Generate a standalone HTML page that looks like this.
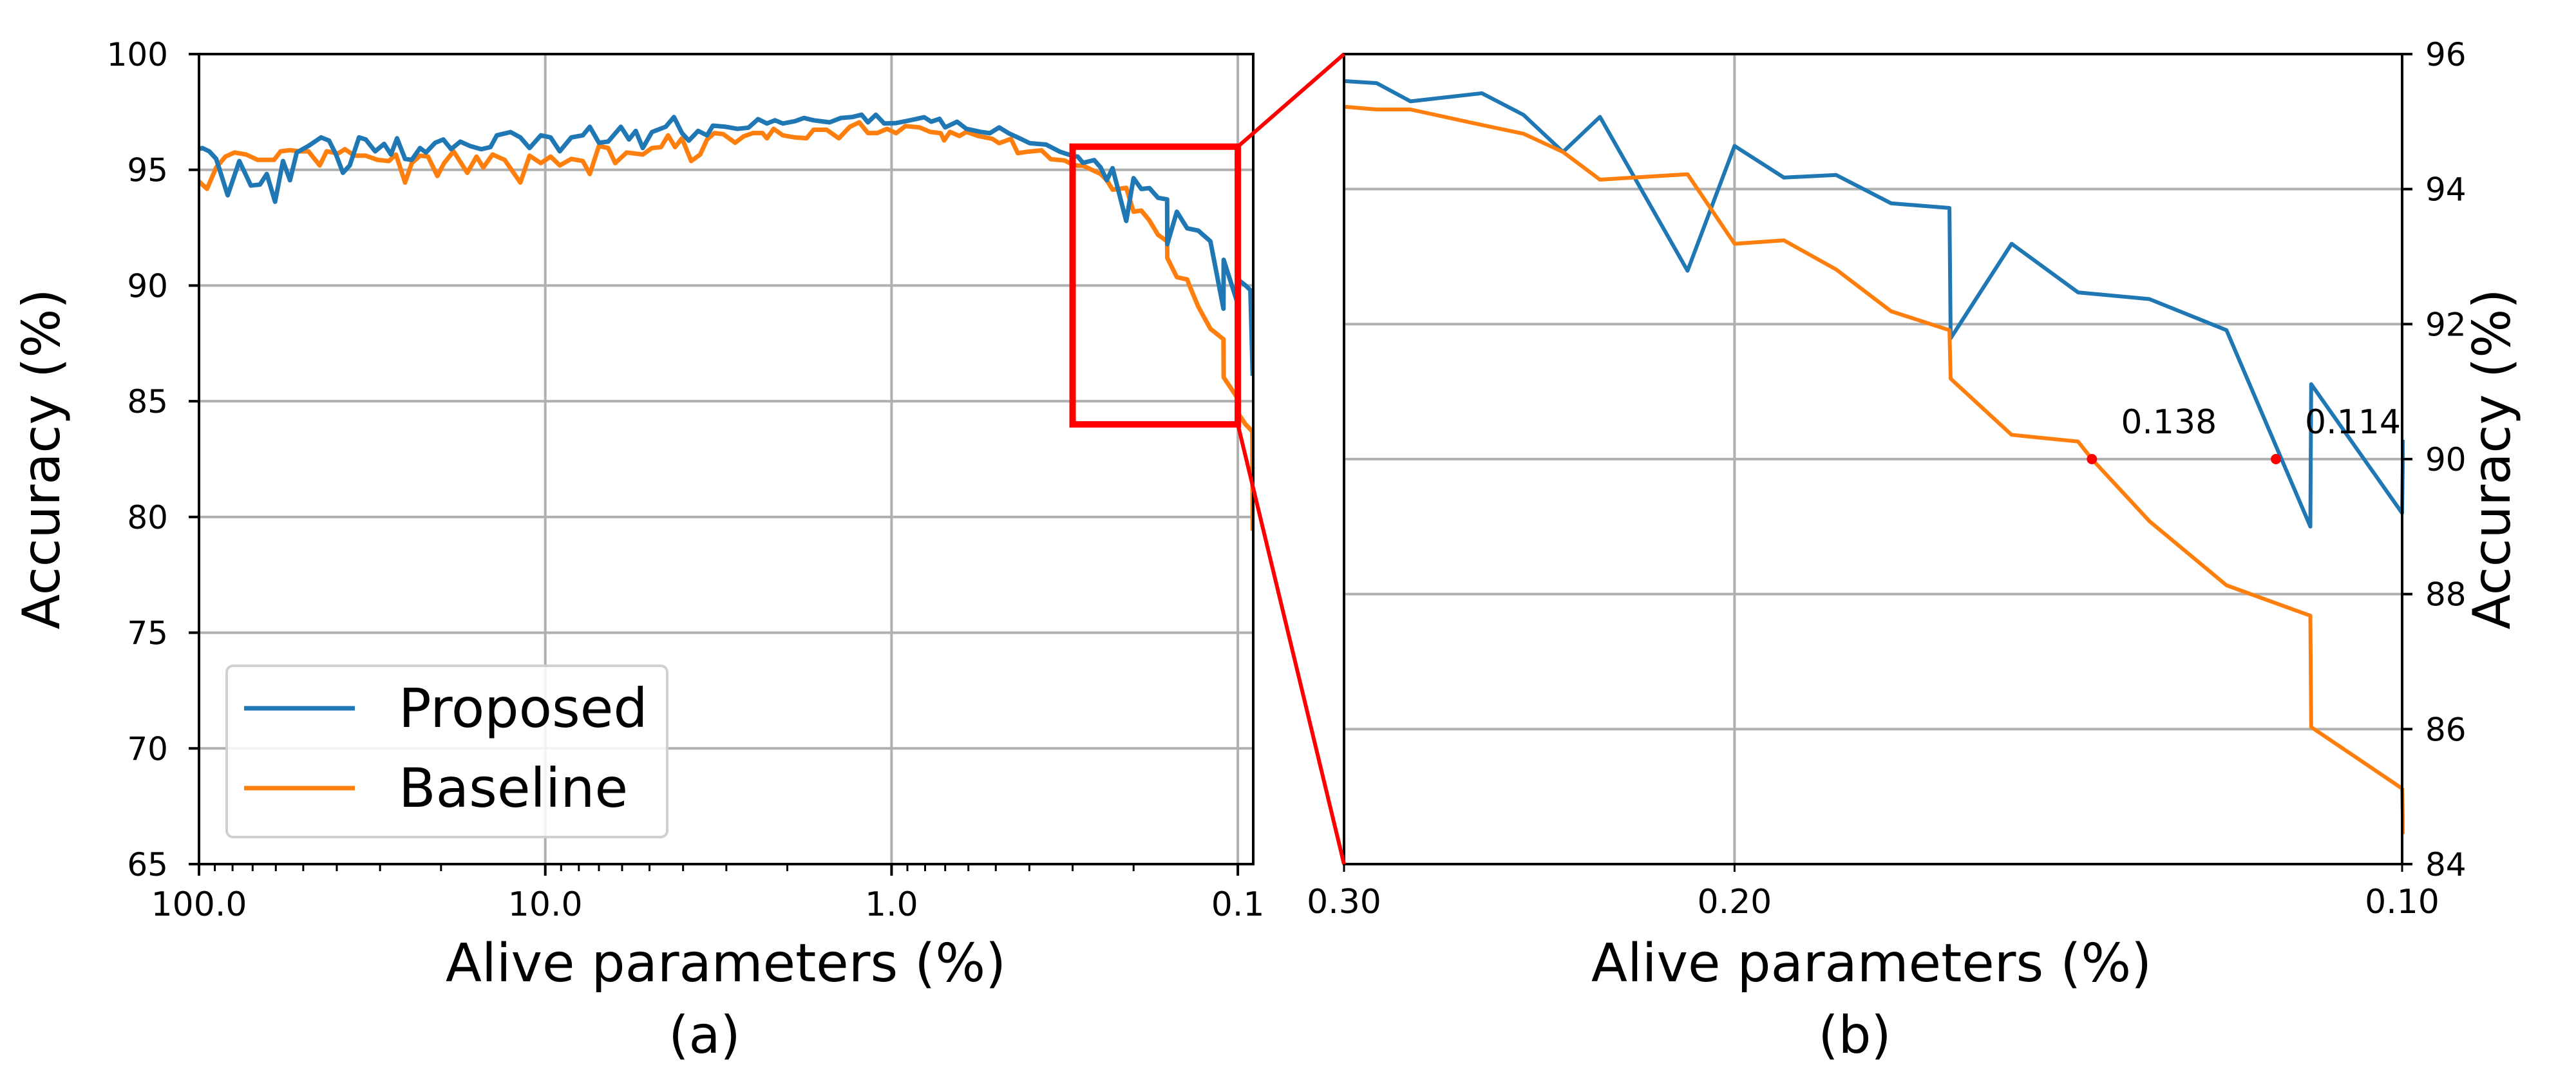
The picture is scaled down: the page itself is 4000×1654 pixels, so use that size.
<!DOCTYPE html>
<html><head><meta charset="utf-8"><style>
html,body{margin:0;padding:0;background:#fff;width:4000px;height:1654px;overflow:hidden;}
svg{display:block;}
text{font-family:"DejaVu Sans","Liberation Sans",sans-serif;fill:#000;}
</style></head><body>
<svg id="fig" width="4000" height="1654" viewBox="0 0 4000 1654" xmlns="http://www.w3.org/2000/svg">
<defs>
<clipPath id="clipL"><rect x="309" y="84" width="1637" height="1258"/></clipPath>
<clipPath id="clipR"><rect x="2087" y="84" width="1647" height="1258"/></clipPath>
</defs>
<g id="gridL"></g>
<g id="gridR"></g>
<g id="seriesL" clip-path="url(#clipL)"></g>
<g id="seriesR" clip-path="url(#clipR)"></g>
<g id="axesL"></g>
<g id="axesR"></g>
<g id="over"></g>

<text x="92" y="713" font-size="80" text-anchor="middle" transform="rotate(-90 92 713)">Accuracy (%)</text>
<text x="1127" y="1524" font-size="82" text-anchor="middle">Alive parameters (%)</text>
<text x="1094" y="1635" font-size="80" text-anchor="middle">(a)</text>
<text x="3897" y="713" font-size="80" text-anchor="middle" transform="rotate(-90 3897 713)">Accuracy (%)</text>
<text x="2906" y="1524" font-size="82" text-anchor="middle">Alive parameters (%)</text>
<text x="2880" y="1635" font-size="80" text-anchor="middle">(b)</text>

<g>
<rect x="352" y="1034" width="684" height="266" rx="10" fill="#fff" fill-opacity="0.85" stroke="#d0d0d0" stroke-width="4"/>
<line x1="379" y1="1100" x2="551" y2="1100" stroke="#1f77b4" stroke-width="7"/>
<text x="619" y="1129" font-size="84">Proposed</text>
<line x1="379" y1="1224" x2="551" y2="1224" stroke="#ff7f0e" stroke-width="7"/>
<text x="619" y="1253" font-size="84">Baseline</text>
</g>
</svg>
<script>
const blueX=[100,97.8,93.4,89.2,82.6,76.5,70.8,66.7,63.7,60.3,57.2,54.6,52.2,48.3,44.4,42.1,40.2,38.4,36.7,34.5,33.0,31.0,29.2,27.9,26.8,25.4,24.3,23.0,22.1,20.8,19.7,18.7,17.6,16.5,15.3,14.4,13.8,12.6,11.8,11.1,
10.3,9.65,9.08,8.41,7.79,7.44,7.00,6.58,6.05,5.73,5.48,5.23,4.92,4.49,4.25,4.03,3.85,3.62,3.41,3.28,3.01,2.79,2.59,2.43,2.29,2.17,2.06,1.90,1.79,1.68,1.51,1.40,1.30,1.22,1.17,1.11,1.05,
0.970,0.884,0.805,0.768,0.727,0.700,0.647,0.608,0.553,0.520,0.489,0.459,0.432,0.399,0.358,0.326,
0.300,0.290,0.280,0.260,0.249,0.239,0.230,0.210,0.200,0.190,0.180,0.170,0.160,0.1598,0.150,0.140,0.130,0.120,0.110,0.1099,0.100,0.0999,0.095,0.092,0.0906];
const blueY=[95.9,95.94,95.80,95.47,93.90,95.38,94.32,94.36,94.82,93.62,95.38,94.55,95.75,96.03,96.40,96.26,95.66,94.87,95.19,96.40,96.31,95.80,96.12,95.66,96.36,95.47,95.43,95.94,95.75,96.17,96.31,95.89,96.22,96.03,95.89,95.98,96.49,96.63,96.40,95.94,
96.49,96.40,95.80,96.40,96.49,96.86,96.17,96.22,96.86,96.31,96.68,95.94,96.63,96.86,97.28,96.59,96.26,96.68,96.49,96.91,96.86,96.77,96.82,97.19,97.00,97.14,97.00,97.10,97.24,97.14,97.05,97.24,97.28,97.38,97.05,97.38,97.00,
97.02,97.14,97.27,97.08,97.20,96.83,97.08,96.77,96.64,96.58,96.83,96.58,96.40,96.15,96.09,95.78,
95.60,95.57,95.30,95.42,95.10,94.55,95.07,92.79,94.64,94.17,94.21,93.79,93.72,91.79,93.19,92.47,92.37,91.91,89.0,91.11,89.20,90.26,90.0,89.8,86.1];
const orangeX=[100,97.8,94.8,89.2,83.9,78.9,73.1,67.7,60.7,58.1,54.6,51.4,48.3,44.8,42.8,39.6,37.9,35.6,33.0,30.5,28.3,27.0,25.4,24.3,23.0,21.8,20.5,19.6,18.4,16.8,15.8,15.1,14.2,13.1,11.8,11.1,
10.3,9.65,9.08,8.41,7.79,7.44,7.00,6.58,6.28,5.82,5.23,4.92,4.63,4.42,4.22,4.03,3.79,3.57,3.41,3.25,3.06,2.83,2.67,2.51,2.36,2.29,2.19,2.06,1.90,1.76,1.68,1.54,1.42,1.32,1.24,1.17,1.10,1.03,
0.970,0.912,0.830,0.774,0.721,0.705,0.678,0.637,0.608,0.562,0.512,0.489,0.452,0.432,0.405,0.369,0.347,0.316,
0.300,0.290,0.280,0.260,0.249,0.239,0.230,0.210,0.200,0.190,0.180,0.170,0.160,0.1598,0.150,0.140,0.138,0.130,0.120,0.110,0.1099,0.100,0.0999,0.095,0.0908,0.0906];
const orangeY=[94.5,94.36,94.18,95.10,95.57,95.75,95.66,95.43,95.43,95.80,95.85,95.80,95.80,95.19,95.80,95.71,95.89,95.61,95.61,95.43,95.38,95.66,94.45,95.29,95.61,95.57,94.73,95.29,95.80,94.87,95.57,95.10,95.66,95.43,94.45,95.61,
95.29,95.57,95.19,95.47,95.38,94.82,96.03,95.94,95.29,95.75,95.66,95.94,95.98,96.49,95.98,96.36,95.38,95.66,96.31,96.59,96.54,96.17,96.45,96.59,96.59,96.36,96.77,96.49,96.40,96.36,96.73,96.73,96.36,96.86,97.05,96.59,96.59,96.77,
96.58,96.89,96.83,96.64,96.58,96.27,96.64,96.46,96.64,96.46,96.34,96.15,96.34,95.72,95.78,95.84,95.46,95.40,
95.22,95.18,95.18,94.95,94.82,94.55,94.14,94.22,93.19,93.24,92.81,92.19,91.91,91.19,90.36,90.26,90.0,89.08,88.13,87.68,86.03,85.12,84.49,84.0,83.7,79.4];
const leftXTicks=[100,10,1,0.1];
const leftXTickLabels=['100.0','10.0','1.0','0.1'];
const leftYTicks=[65,70,75,80,85,90,95,100];
const rightXTicks=[0.3,0.2,0.1];
const rightXTickLabels=['0.30','0.20','0.10'];
const rightYTicks=[84,86,88,90,92,94,96];
const markerX=[0.138,0.114];
const markerY=[90,90];
const markerLabels=['0.138','0.114'];
const zoomBox=[0.3,0.1,84,96];

const NS='http://www.w3.org/2000/svg';
const L={x0:309,x1:1946,y0:84,y1:1342};
const R={x0:2087,x1:3730,y0:84,y1:1342};
const DEC=537.7;
function Lx(v){return L.x0+(2-Math.log10(v))*DEC;}
function Ly(v){return L.y1-(v-65)*(L.y1-L.y0)/35;}
function Rx(v){return R.x0+(Math.log10(0.3)-Math.log10(v))/Math.log10(3)*(R.x1-R.x0);}
function Ry(v){return R.y1-(v-84)*(R.y1-R.y0)/12;}
function mk(tag,attrs,parent){const e=document.createElementNS(NS,tag);for(const k in attrs)e.setAttribute(k,attrs[k]);parent.appendChild(e);return e;}
const gridL=document.getElementById('gridL'),gridR=document.getElementById('gridR');
const sL=document.getElementById('seriesL'),sR=document.getElementById('seriesR');
const aL=document.getElementById('axesL'),aR=document.getElementById('axesR'),ov=document.getElementById('over');

leftXTicks.forEach((v,i)=>{
  const x=Lx(v);
  const g=mk('line',{x1:x,y1:L.y0,x2:x,y2:L.y1,stroke:'#b0b0b0','stroke-width':4},gridL);
  
  
  const t=mk('line',{x1:x,y1:L.y1,x2:x,y2:L.y1+18,stroke:'#000','stroke-width':4},aL);
  
  
  const tx=mk('text',{x:x,y:L.y1+80,'font-size':52,'text-anchor':'middle'},aL);
  tx.textContent=leftXTickLabels[i];
  
  
});
for(let d=0;d<4;d++){for(let m=2;m<=9;m++){const val=Math.pow(10,1-d)*m;if(val>=100||Lx(val)>L.x1)continue;
  const x=Lx(val);
  const t=mk('line',{x1:x,y1:L.y1,x2:x,y2:L.y1+11,stroke:'#000','stroke-width':3},aL);
  
  
}}
leftYTicks.forEach(v=>{
  const y=Ly(v);
  const g=mk('line',{x1:L.x0,y1:y,x2:L.x1,y2:y,stroke:'#b0b0b0','stroke-width':4},gridL);
  
  
  const t=mk('line',{x1:L.x0-16,y1:y,x2:L.x0,y2:y,stroke:'#000','stroke-width':4},aL);
  
  
  const tx=mk('text',{x:L.x0-48,y:y+18,'font-size':50,'text-anchor':'end'},aL);
  tx.textContent=String(v);
  
  
});
rightXTicks.forEach((v,i)=>{
  const x=Rx(v);
  const g=mk('line',{x1:x,y1:R.y0,x2:x,y2:R.y1,stroke:'#b0b0b0','stroke-width':4},gridR);
  
  
  const t=mk('line',{x1:x,y1:R.y1,x2:x,y2:R.y1+12,stroke:'#000','stroke-width':3},aR);
  
  
  const tx=mk('text',{x:x,y:R.y1+76,'font-size':52,'text-anchor':'middle'},aR);
  tx.textContent=rightXTickLabels[i];
  
  
});
rightYTicks.forEach(v=>{
  const y=Ry(v);
  const g=mk('line',{x1:R.x0,y1:y,x2:R.x1,y2:y,stroke:'#b0b0b0','stroke-width':4},gridR);
  
  
  const t=mk('line',{x1:R.x1,y1:y,x2:R.x1+16,y2:y,stroke:'#000','stroke-width':4},aR);
  
  
  const tx=mk('text',{x:R.x1+36,y:y+18,'font-size':50,'text-anchor':'start'},aR);
  tx.textContent=String(v);
  
  
});
function pathD(xs,ys,fx,fy){return xs.map((x,i)=>(i?'L':'M')+fx(x).toFixed(1)+' '+fy(ys[i]).toFixed(1)).join(' ');}
const oL=mk('path',{d:pathD(orangeX,orangeY,Lx,Ly),fill:'none',stroke:'#ff7f0e','stroke-width':7,'stroke-linejoin':'round'},sL);


const bL=mk('path',{d:pathD(blueX,blueY,Lx,Ly),fill:'none',stroke:'#1f77b4','stroke-width':7,'stroke-linejoin':'round'},sL);


const bR=mk('path',{d:pathD(blueX,blueY,Rx,Ry),fill:'none',stroke:'#1f77b4','stroke-width':6,'stroke-linejoin':'round'},sR);


const oR=mk('path',{d:pathD(orangeX,orangeY,Rx,Ry),fill:'none',stroke:'#ff7f0e','stroke-width':6,'stroke-linejoin':'round'},sR);


markerX.forEach((v,i)=>{
  const c=mk('circle',{cx:Rx(v),cy:Ry(markerY[i]),r:8,fill:'#ff0000'},ov);
  
  
  const t=mk('text',{x:Rx(v)+45,y:Ry(markerY[i])-40,'font-size':52},ov);
  t.textContent=markerLabels[i];
  
  
});
const fL=mk('rect',{x:L.x0,y:L.y0,width:L.x1-L.x0,height:L.y1-L.y0,fill:'none',stroke:'#000','stroke-width':4},aL);


const fR=mk('rect',{x:R.x0,y:R.y0,width:R.x1-R.x0,height:R.y1-R.y0,fill:'none',stroke:'#000','stroke-width':4},aR);


const bx0=Lx(zoomBox[0]),bx1=Lx(zoomBox[1]),by0=Ly(zoomBox[3]),by1=Ly(zoomBox[2]);
const zb=mk('rect',{x:bx0,y:by0,width:bx1-bx0,height:by1-by0,fill:'none',stroke:'#ff0000','stroke-width':10},ov);


const c1=mk('line',{x1:bx1,y1:by0,x2:R.x0,y2:R.y0,stroke:'#ff0000','stroke-width':6},ov);


const c2=mk('line',{x1:bx1,y1:by1,x2:R.x0,y2:R.y1,stroke:'#ff0000','stroke-width':6},ov);


</script>
</body></html>
